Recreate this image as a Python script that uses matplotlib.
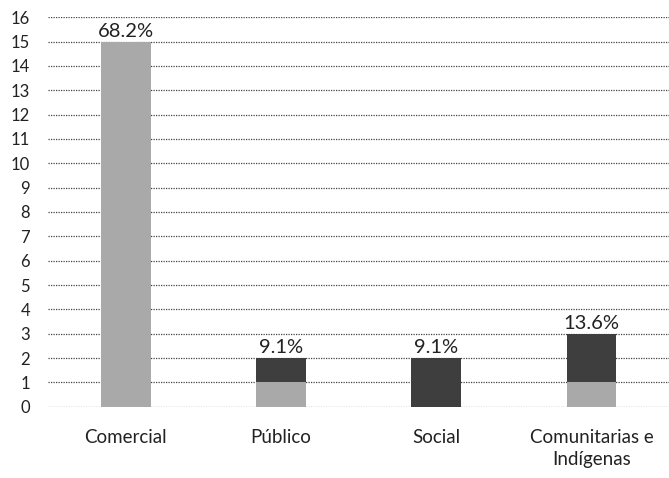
import matplotlib.pyplot as plt

categories = ['Comercial', 'Público', 'Social', 'Comunitarias e\nIndígenas']
light_vals = [15, 1, 0, 1]
dark_vals = [0, 1, 2, 2]
pct_labels = ['68.2%', '9.1%', '9.1%', '13.6%']

plt.rcParams['font.family'] = ['Lato', 'DejaVu Sans']

fig = plt.figure(figsize=(6.69, 4.78), dpi=100)
ax = fig.add_axes([0.072, 0.149, 0.928, 0.815])

x = range(len(categories))
ax.bar(x, light_vals, width=0.32, color='#a9a9a9', zorder=3)
ax.bar(x, dark_vals, width=0.32, bottom=light_vals, color='#3e3e3e', zorder=3)

# percentage labels over each stack
for i, (l, d, t) in enumerate(zip(light_vals, dark_vals, pct_labels)):
    ax.text(i, l + d + 0.08, t, ha='center', va='bottom', fontsize=14.5, color='#222222')

ax.set_ylim(0, 16)
ax.set_xlim(-0.5, 3.5)
ax.set_yticks(range(0, 17))
ax.set_xticks(list(x))
ax.set_xticklabels(categories, fontsize=13.5, color='#222222', linespacing=1.35)
ax.tick_params(axis='y', labelsize=12, length=0, pad=13, colors='#222222')
ax.tick_params(axis='x', length=0, pad=16)
ax.yaxis.grid(True, linestyle=(0, (1, 1)), color='#444444', linewidth=0.9, zorder=0)
for loc in ['left', 'right', 'top', 'bottom']:
    ax.spines[loc].set_visible(False)

fig.savefig('out.png', dpi=100)
